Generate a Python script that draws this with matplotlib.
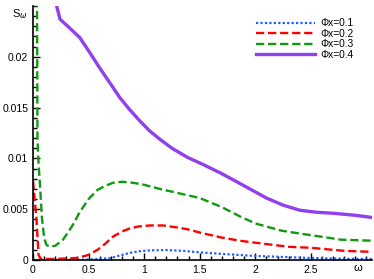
import matplotlib
matplotlib.use("Agg")
import matplotlib.pyplot as plt
from matplotlib.ticker import MultipleLocator

plt.rcParams['font.family'] = ['Liberation Sans', 'DejaVu Sans']

x1 = [0, 0.3, 0.5, 0.6, 0.7, 0.8, 0.87, 0.95, 1.05, 1.2, 1.35, 1.5, 1.7, 2.0, 2.3, 2.5,
      2.8, 3.05]
y1 = [0.0, 0.0, 0.00005, 0.0001, 0.0002, 0.0005, 0.0007, 0.00085, 0.00095, 0.00098,
      0.0009, 0.00075, 0.0006, 0.0004, 0.00028, 0.0002, 0.00012, 0.0001]

x2 = [0, 0.03, 0.05, 0.07, 0.2, 0.4, 0.5, 0.58, 0.65, 0.72, 0.8, 0.87, 0.95, 1.05, 1.17,
      1.3, 1.4, 1.5, 1.7, 1.86, 2.0, 2.3, 2.5, 2.8, 3.05]
y2 = [0.0078, 0.0042, 0.0005, 0.0001, 0.0001, 0.0002, 0.0005, 0.001, 0.0016, 0.0023,
      0.0028, 0.0031, 0.0033, 0.0034, 0.0034, 0.0032, 0.003, 0.0027, 0.0022, 0.0019,
      0.0017, 0.0013, 0.0012, 0.0009, 0.0008]

x3 = [0.035, 0.04, 0.05, 0.065, 0.08, 0.1, 0.12, 0.15, 0.2, 0.27, 0.35, 0.42, 0.5, 0.58,
      0.65, 0.72, 0.8, 0.9, 1.0, 1.14, 1.3, 1.5, 1.7, 1.86, 2.0, 2.23, 2.4, 2.59, 2.77,
      3.05]
y3 = [0.03, 0.012, 0.0095, 0.007, 0.0042, 0.0022, 0.0015, 0.0013, 0.0014, 0.002, 0.0033,
      0.0047, 0.006, 0.0069, 0.0073, 0.0076, 0.0077, 0.0076, 0.0074, 0.0070, 0.0066,
      0.0061, 0.0052, 0.0043, 0.0036, 0.0029, 0.0026, 0.0023, 0.0020, 0.0019]

x4 = [0.19, 0.243, 0.333, 0.42, 0.5, 0.6, 0.7, 0.78, 0.87, 0.96, 1.05, 1.14, 1.25, 1.39,
      1.53, 1.68, 1.8, 1.95, 2.1, 2.25, 2.4, 2.55, 2.7, 2.9, 3.04]
y4 = [0.026, 0.0237, 0.0228, 0.0219, 0.0206, 0.0189, 0.0173, 0.016, 0.0148, 0.0137,
      0.0127, 0.0119, 0.0110, 0.0101, 0.0094, 0.0086, 0.0079, 0.0070, 0.0061, 0.0054,
      0.0049, 0.0047, 0.0046, 0.0044, 0.0042]

labels = ['Φx=0.1', 'Φx=0.2', 'Φx=0.3', 'Φx=0.4']
xticks = [0, 0.5, 1, 1.5, 2, 2.5]
xticklabels = ['0', '0.5', '1', '1.5', '2', '2.5']
yticks = [0, 0.005, 0.01, 0.015, 0.02]
yticklabels = ['0', '0.005', '0.01', '0.015', '0.02']

fig = plt.figure(figsize=(3.74, 2.79), dpi=100)
ax = fig.add_axes([33/374, 1-260/279, (372-33)/374, (260-6)/279])

ax.plot(x1, y1, color='#1f5cff', lw=1.6, ls=(0, (1, 1)), label=labels[0])
ax.plot(x2, y2, color='#ff0000', lw=1.7, ls=(0, (3.5, 1.6)), label=labels[1])
ax.plot(x3, y3, color='#0f9a0f', lw=1.7, ls=(0, (3.5, 1.6)), label=labels[2])
ax.plot(x4, y4, color='#9040ee', lw=2.4, ls='-', label=labels[3])

ax.set_xlim(0, 3.05)
ax.set_ylim(0, 0.025)
ax.set_xticks(xticks)
ax.set_xticklabels(xticklabels)
ax.set_yticks(yticks)
ax.set_yticklabels(yticklabels)
ax.xaxis.set_minor_locator(MultipleLocator(0.1))
ax.yaxis.set_minor_locator(MultipleLocator(0.001))
ax.tick_params(which='both', direction='in', labelsize=7.5, width=1, color='black')
ax.tick_params(which='major', length=5)
ax.tick_params(which='minor', length=3)
ax.spines['top'].set_visible(False)
ax.spines['right'].set_visible(False)
ax.spines['left'].set_linewidth(1.2)
ax.spines['bottom'].set_linewidth(1.2)

fig.text(12/374, 1-14/279, 'S$_\\omega$', fontsize=8, ha='left', va='center')
fig.text(358/374, 1-268/279, 'ω', fontsize=8, ha='center', va='center')

ax.legend(loc='upper right', bbox_to_anchor=(0.965, 0.975), frameon=False, fontsize=7.3,
          handlelength=5.8, handletextpad=0.6, labelspacing=0.05, borderaxespad=0.2)

fig.savefig('out.png', dpi=100)
